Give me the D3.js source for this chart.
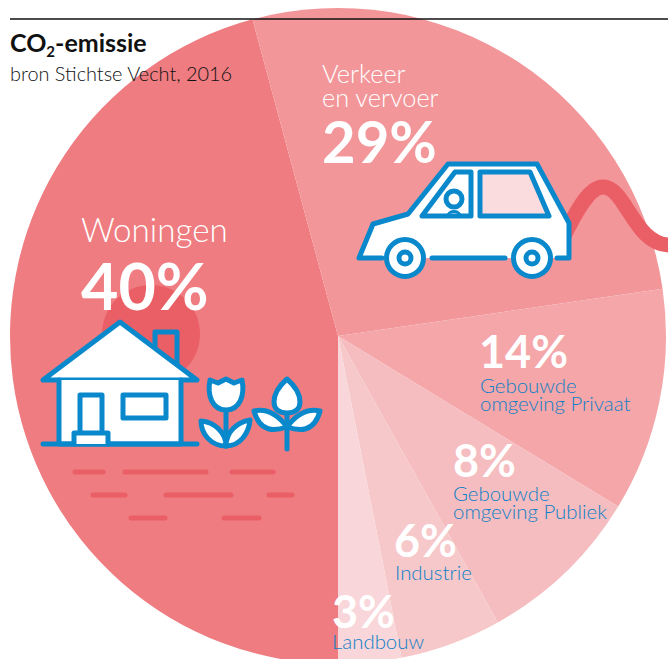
<!DOCTYPE html>
<html>
<head>
<meta charset="utf-8">
<title>CO2-emissie</title>
<style>
	html, body { margin: 0; padding: 0; background: #fff; overflow: hidden; }
	svg { display: block; font-family: Lato, sans-serif; }
</style>
</head>
<body>
<svg id="chart" width="668" height="659"></svg>
<script src="https://cdn.jsdelivr.net/npm/d3@7"></script>
<script>
// slices, in drawing order clockwise from the bottom of the circle
const categories = ["Woningen", "Verkeer en vervoer", "Gebouwde omgeving Privaat", "Gebouwde omgeving Publiek", "Industrie", "Landbouw"]
const labels = ["40%", "29%", "14%", "8%", "6%", "3%"]
// share of the circle each slice really takes up in the picture (it differs from the printed label)
const drawnShares = [45.8, 26.9, 11.0, 8.2, 5.0, 3.1]
const colors = ["#ee7c80", "#f2969a", "#f4a6a9", "#f5bdc0", "#f7c8ca", "#f8d6d9"]

const blue = "#0a88cc", red = "#ea5f65", textBlue = "#0f80c6"

const svg = d3.select("#chart")
const cx = 338, cy = 336, radius = 328

let pie = d3.pie().sort(null).value(d => d)
	.startAngle(Math.PI).endAngle(3 * Math.PI)
let arc = d3.arc().innerRadius(0).outerRadius(radius)
let color = d3.scaleOrdinal().domain(categories).range(colors)

svg.append("g")
	.attr("transform", `translate(${cx},${cy})`)
	.selectAll("path")
	.data(pie(drawnShares))
	.enter()
	.append("path")
	.attr("d", arc)
	.attr("fill", (d, i) => color(categories[i]))

// top rule, sits on top of the pie
svg.append("line")
	.attr("x1", 10).attr("x2", 668).attr("y1", 19).attr("y2", 19)
	.attr("stroke", "#111").attr("stroke-width", 1.3)

// decorations behind the icons
svg.append("circle").attr("cx", 151).attr("cy", 334).attr("r", 49).attr("fill", red)

const dashes = svg.append("g").attr("stroke", red).attr("stroke-width", 5).attr("stroke-linecap", "round")
;[[75, 103, 472], [125, 206, 472], [232, 273, 472],
  [93, 125, 495], [166, 231, 495], [269, 292, 495],
  [131, 165, 518], [224, 259, 518]].forEach(d => {
	dashes.append("line").attr("x1", d[0]).attr("x2", d[1]).attr("y1", d[2]).attr("y2", d[2])
})

// exhaust wave
svg.append("path")
	.attr("d", "M562,240 C578,207 590,187 603,187 C626,187 634,245 670,245")
	.attr("fill", "none").attr("stroke", red).attr("stroke-width", 15)

// icons: everything shares the same blue outline
function icon(parent, d, fill) {
	return parent.append("path").attr("d", d).attr("fill", fill || "none")
		.attr("stroke", blue).attr("stroke-width", 5)
		.attr("stroke-linejoin", "round").attr("stroke-linecap", "round")
}

const house = svg.append("g")
icon(house, "M155,353 V332 H177 V370", red)
icon(house, "M43,380 L120,322 L197,380 Z", "#fff")
icon(house, "M59,380 V444 H181 V380", "#fff")
icon(house, "M43,444 H197")
icon(house, "M80,433 V395 H102 V433", "#fff")
icon(house, "M74,444 V433 H108 V444", "#fff")
icon(house, "M123,395 H166 V418 H123 Z", "#fff")

const tulip = svg.append("g")
icon(tulip, "M226,410 V446")
icon(tulip, "M210,380 L218,383 L226,379 L234,383 L242,380 C245,395 240,410 226,410 C212,410 207,395 210,380 Z", "#fff")
icon(tulip, "M226,446 C211,446 201,434 201,421 C214,422 226,432 226,446 Z", "#fff")
icon(tulip, "M226,446 C241,446 249,432 250,420 C237,422 226,432 226,446 Z", "#fff")

const sprout = svg.append("g")
icon(sprout, "M287,400 V449")
icon(sprout, "M287,379 C295,386 300,394 300,402 C300,410 294,413 287,413 C280,413 274,410 274,402 C274,394 279,386 287,379 Z", "#fff")
icon(sprout, "M254,411 C267,408 278,415 287,427 C275,431 260,433 254,411 Z", "#fff")
icon(sprout, "M320,411 C307,408 296,415 287,427 C299,431 314,433 320,411 Z", "#fff")

const car = svg.append("g")
icon(car, "M382,258 H359 L373,224 L408,214 L448,164 H537 L569,223 V258 H505 H382 Z", "#fff").attr("stroke", "none")
icon(car, "M382,258 H359 L373,224 L408,214 L448,164 H537 L569,223 V258 H557")
icon(car, "M432,258 H505")
icon(car, "M422,216 L455,172 H471 V216 Z", "#fff")
icon(car, "M480,172 H530 L549,216 H480 Z", "#fadcde")
icon(car, "M448,216 C448,210 460,210 460,216").attr("stroke-width", 3)
car.append("circle").attr("cx", 454).attr("cy", 199).attr("r", 8).attr("fill", "#fff").attr("stroke", blue).attr("stroke-width", 5)
;[405, 532].forEach(x => {
	car.append("circle").attr("cx", x).attr("cy", 258).attr("r", 18.5).attr("fill", "#fff").attr("stroke", blue).attr("stroke-width", 5)
	car.append("circle").attr("cx", x).attr("cy", 258).attr("r", 6).attr("fill", "#fff").attr("stroke", blue).attr("stroke-width", 5)
})

// title block
let title = svg.append("text").attr("x", 10).attr("y", 52)
	.attr("font-size", 25).attr("font-weight", 700).attr("fill", "#111")
title.append("tspan").text("CO")
title.append("tspan").attr("font-size", 15).attr("dy", 5).text("2")
title.append("tspan").attr("dy", -5).text("-emissie")

svg.append("text").attr("x", 10).attr("y", 81)
	.attr("font-size", 19.9).attr("font-weight", 300).attr("fill", "#111")
	.text("bron Stichtse Vecht, 2016")

// text placement per slice, same order as categories
const percentLayout = [
	{ x: 81, y: 310, size: 64.5 },
	{ x: 322, y: 163, size: 58 },
	{ x: 479, y: 368, size: 45 },
	{ x: 453, y: 477, size: 45 },
	{ x: 394, y: 557, size: 45 },
	{ x: 332, y: 628, size: 45 }
]
svg.append("g").selectAll("text")
	.data(labels)
	.enter()
	.append("text")
	.attr("x", (d, i) => percentLayout[i].x)
	.attr("y", (d, i) => percentLayout[i].y)
	.attr("font-size", (d, i) => percentLayout[i].size)
	.attr("font-weight", 700)
	.attr("fill", "#fff")
	.text(d => d)

// category names, split over the lines they take in the picture
const nameLines = [
	["Woningen"], ["Verkeer", "en vervoer"], ["Gebouwde", "omgeving Privaat"],
	["Gebouwde", "omgeving Publiek"], ["Industrie"], ["Landbouw"]
]
const nameLayout = [
	{ x: 81, y: 242, size: 33.2, lead: 0, fill: "#fff", weight: 300 },
	{ x: 322, y: 83, size: 25.3, lead: 24, fill: "#fff", weight: 300 },
	{ x: 480, y: 393, size: 20.4, lead: 18, fill: textBlue, weight: 300 },
	{ x: 453, y: 501, size: 20.4, lead: 17.5, fill: textBlue, weight: 300 },
	{ x: 395, y: 580, size: 20.4, lead: 0, fill: textBlue, weight: 300 },
	{ x: 332, y: 649, size: 20.4, lead: 0, fill: textBlue, weight: 300 }
]
nameLines.forEach((lines, i) => {
	let p = nameLayout[i]
	lines.forEach((line, k) => {
		svg.append("text")
			.attr("x", p.x).attr("y", p.y + k * p.lead)
			.attr("font-size", p.size).attr("font-weight", p.weight)
			.attr("fill", p.fill)
			.text(line)
	})
})
</script>
</body>
</html>
